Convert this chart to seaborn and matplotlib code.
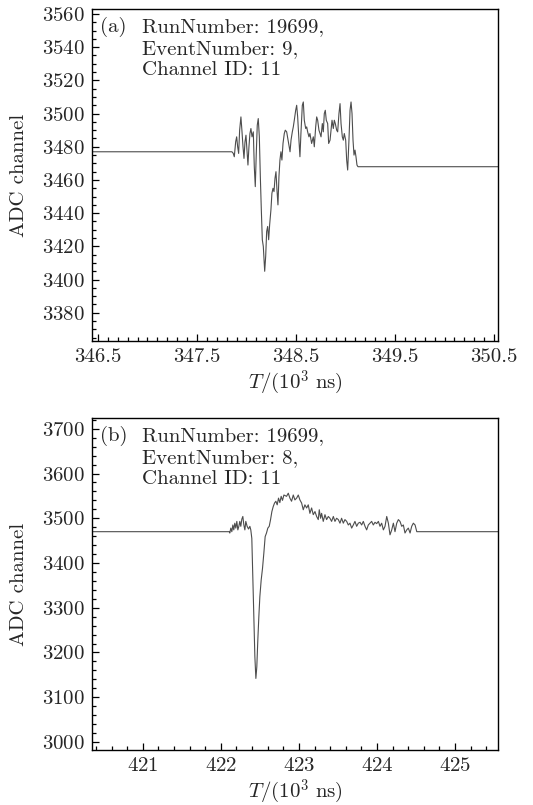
import matplotlib
matplotlib.use("Agg")
import matplotlib.pyplot as plt
import seaborn as sns
from matplotlib.ticker import MultipleLocator

# waveform (a): RunNumber 19699, EventNumber 9, Channel 11
t_a = [346.40, 347.853, 347.867, 347.877, 347.891, 347.901, 347.911, 347.921, 347.931, 347.944,
       347.955, 347.965, 347.975, 347.985, 347.995, 348.005, 348.015, 348.025, 348.035, 348.045,
       348.056, 348.069, 348.079, 348.089, 348.099, 348.109, 348.119, 348.130, 348.140, 348.150,
       348.160, 348.170, 348.184, 348.194, 348.204, 348.214, 348.224, 348.234, 348.247, 348.257,
       348.268, 348.278, 348.288, 348.298, 348.308, 348.318, 348.328, 348.338, 348.348, 348.358,
       348.369, 348.382, 348.392, 348.406, 348.423, 348.440, 348.450, 348.463, 348.473, 348.483,
       348.497, 348.507, 348.517, 348.530, 348.540, 348.550, 348.564, 348.574, 348.584, 348.598,
       348.608, 348.618, 348.631, 348.641, 348.658, 348.675, 348.685, 348.699, 348.709, 348.719,
       348.732, 348.743, 348.753, 348.766, 348.776, 348.786, 348.796, 348.806, 348.820, 348.830,
       348.844, 348.854, 348.864, 348.877, 348.887, 348.897, 348.911, 348.921, 348.934, 348.945,
       348.955, 348.968, 348.978, 348.988, 349.002, 349.012, 349.022, 349.035, 349.046, 349.056,
       349.066, 349.076, 349.086, 349.096, 349.106, 349.116, 349.126, 350.60]
adc_a = [3477, 3477, 3476, 3474, 3483, 3486, 3480, 3476, 3490, 3498,
         3489, 3480, 3473, 3483, 3487, 3478, 3469, 3480, 3488, 3491,
         3486, 3489, 3468, 3456, 3476, 3493, 3497, 3486, 3462, 3442,
         3424, 3420, 3405, 3414, 3429, 3432, 3424, 3433, 3442, 3452,
         3455, 3453, 3461, 3465, 3454, 3445, 3462, 3472, 3477, 3472,
         3482, 3488, 3490, 3489, 3483, 3477, 3484, 3489, 3492, 3496,
         3502, 3505, 3498, 3484, 3474, 3488, 3505, 3507, 3496, 3491,
         3492, 3489, 3486, 3488, 3482, 3486, 3480, 3492, 3498, 3496,
         3490, 3488, 3486, 3494, 3489, 3500, 3502, 3496, 3494, 3482,
         3484, 3490, 3496, 3491, 3496, 3494, 3490, 3489, 3500, 3506,
         3494, 3486, 3484, 3488, 3484, 3472, 3466, 3484, 3502, 3507,
         3500, 3484, 3475, 3478, 3474, 3469, 3468, 3468]

# waveform (b): RunNumber 19699, EventNumber 8, Channel 11
t_b = [420.30, 422.107, 422.115, 422.128, 422.141, 422.154, 422.166, 422.179, 422.192, 422.205,
       422.218, 422.231, 422.243, 422.256, 422.269, 422.282, 422.295, 422.308, 422.320, 422.337,
       422.355, 422.372, 422.384, 422.397, 422.410, 422.423, 422.436, 422.449, 422.461, 422.474,
       422.487, 422.500, 422.517, 422.534, 422.551, 422.568, 422.585, 422.602, 422.620, 422.637,
       422.654, 422.671, 422.688, 422.705, 422.722, 422.739, 422.756, 422.773, 422.790, 422.808,
       422.842, 422.864, 422.885, 422.906, 422.928, 422.949, 422.971, 422.992, 423.013, 423.035,
       423.056, 423.077, 423.099, 423.120, 423.141, 423.163, 423.184, 423.206, 423.227, 423.248,
       423.261, 423.278, 423.291, 423.312, 423.334, 423.355, 423.377, 423.398, 423.419, 423.441,
       423.462, 423.483, 423.505, 423.526, 423.547, 423.569, 423.590, 423.612, 423.633, 423.654,
       423.676, 423.697, 423.718, 423.740, 423.761, 423.783, 423.804, 423.825, 423.847, 423.868,
       423.889, 423.911, 423.932, 423.953, 423.975, 423.996, 424.018, 424.039, 424.060, 424.082,
       424.103, 424.125, 424.146, 424.167, 424.189, 424.210, 424.231, 424.253, 424.274, 424.295,
       424.317, 424.338, 424.359, 424.381, 424.402, 424.424, 424.445, 424.466, 424.488, 424.510,
       425.60]
adc_b = [3470, 3470, 3467, 3478, 3470, 3485, 3474, 3489, 3478, 3493,
         3474, 3482, 3493, 3482, 3498, 3504, 3485, 3474, 3493, 3482,
         3476, 3482, 3474, 3455, 3370, 3280, 3191, 3142, 3168, 3228,
         3280, 3325, 3362, 3388, 3422, 3459, 3467, 3478, 3482, 3497,
         3515, 3526, 3534, 3538, 3530, 3545, 3535, 3549, 3540, 3552,
         3549, 3556, 3545, 3538, 3552, 3541, 3545, 3552, 3541, 3534,
         3519, 3530, 3523, 3530, 3511, 3523, 3508, 3515, 3504, 3497,
         3519, 3500, 3511, 3493, 3508, 3497, 3504, 3500, 3493, 3504,
         3493, 3500, 3497, 3489, 3500, 3489, 3497, 3493, 3485, 3489,
         3478, 3485, 3493, 3482, 3489, 3491, 3485, 3493, 3482, 3474,
         3485, 3489, 3493, 3485, 3491, 3488, 3493, 3482, 3489, 3474,
         3482, 3504, 3489, 3463, 3474, 3489, 3470, 3489, 3497, 3493,
         3482, 3485, 3467, 3474, 3478, 3467, 3482, 3489, 3485, 3470,
         3470]

xticks_a = [346.5, 347.5, 348.5, 349.5, 350.5]
yticks_a = [3380, 3400, 3420, 3440, 3460, 3480, 3500, 3520, 3540, 3560]
xticks_b = [421, 422, 423, 424, 425]
yticks_b = [3000, 3100, 3200, 3300, 3400, 3500, 3600, 3700]

info_a = ["RunNumber: 19699,", "EventNumber: 9,", "Channel ID: 11"]
info_b = ["RunNumber: 19699,", "EventNumber: 8,", "Channel ID: 11"]

sns.set_style("ticks")
plt.rcParams['font.family'] = ['cmr10', 'DejaVu Serif']
plt.rcParams['mathtext.fontset'] = 'cm'
plt.rcParams['axes.formatter.use_mathtext'] = True
plt.rcParams['font.size'] = 15

fig = plt.figure(figsize=(5.33, 8.05), dpi=100)
ax_a = fig.add_axes([0.1726, 0.5764, 0.7617, 0.4124])
ax_b = fig.add_axes([0.1726, 0.0683, 0.7617, 0.4124])


def style_panel(ax, xticks, yticks, xminor, yminor, xlim, ylim):
    ax.set_xlim(*xlim)
    ax.set_ylim(*ylim)
    ax.set_xticks(xticks)
    ax.set_yticks(yticks)
    ax.xaxis.set_minor_locator(MultipleLocator(xminor))
    ax.yaxis.set_minor_locator(MultipleLocator(yminor))
    ax.tick_params(which='both', direction='in', top=False, right=False,
                   labelsize=15, color='black', width=0.9)
    ax.tick_params(which='major', length=5, pad=5)
    ax.tick_params(which='minor', length=2.8)
    for s in ax.spines.values():
        s.set_linewidth(1.0)
        s.set_color('black')
    ax.set_xlabel(r'$T/(10^3\ \mathrm{ns})$', fontsize=15, labelpad=2)
    ax.set_ylabel('ADC channel', fontsize=15, labelpad=10)
    ax.grid(False)


sns.lineplot(x=t_a, y=adc_a, ax=ax_a, color='0.3', linewidth=0.8, sort=False, estimator=None)
sns.lineplot(x=t_b, y=adc_b, ax=ax_b, color='0.3', linewidth=0.8, sort=False, estimator=None)

style_panel(ax_a, xticks_a, yticks_a, 0.1, 5, (346.44, 350.54), (3363, 3563))
style_panel(ax_b, xticks_b, yticks_b, 0.2, 20, (420.35, 425.55), (2982, 3724))
ax_a.set_xticklabels([f'{v:.1f}' for v in xticks_a])

for ax, tag, info in [(ax_a, '(a)', info_a), (ax_b, '(b)', info_b)]:
    ax.text(0.02, 0.945, tag, transform=ax.transAxes, va='center', ha='left', fontsize=15)
    for i, line in enumerate(info):
        ax.text(0.123, 0.945 - i * 0.065, line, transform=ax.transAxes,
                va='center', ha='left', fontsize=15)

fig.savefig('out.png', dpi=100)
